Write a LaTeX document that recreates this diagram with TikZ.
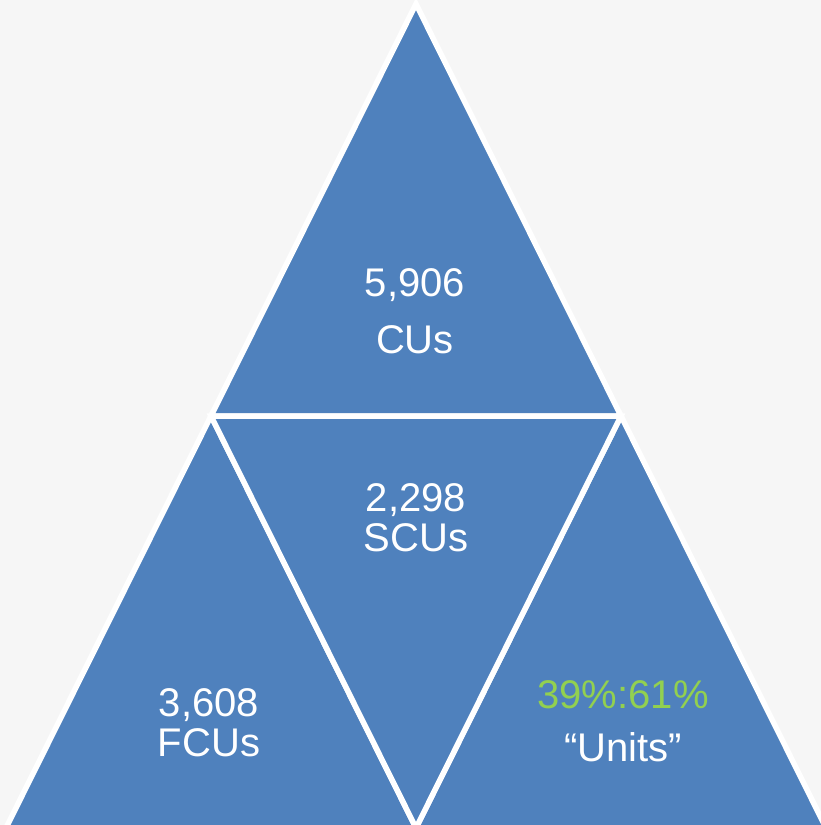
\documentclass[tikz,border=0pt]{standalone}
\usepackage{fontspec}
\setmainfont{Liberation Sans}
\usepackage{tikz}
\usetikzlibrary{calc}
\definecolor{bgray}{HTML}{F6F6F6}
\definecolor{tblue}{HTML}{4F81BD}
\definecolor{tgreen}{HTML}{92D050}
\tikzset{tri/.style={fill=tblue,draw=white,line width=5.5pt,line join=miter}}
\tikzset{l/.style={text=white,font=\fontsize{40}{40}\selectfont,anchor=base,inner sep=0pt}}
\tikzset{g/.style={l,text=tgreen}}

\begin{document}
\begin{tikzpicture}[x=1pt,y=-1pt]
            \useasboundingbox (0,0) rectangle (821,825);
            \fill[bgray] (0,0) rectangle (821,825);
            \clip (0,0) rectangle (821,825);
            \coordinate (A) at (416,4);
            \coordinate (B) at (6,828);
            \coordinate (C) at (826,828);
            \coordinate (AB) at ($(A)!0.5!(B)$);
            \coordinate (AC) at ($(A)!0.5!(C)$);
            \coordinate (BC) at ($(B)!0.5!(C)$);
            \draw[tri] (A)--(AB)--(AC)--cycle;
            \draw[tri] (AB)--(B)--(BC)--cycle;
            \draw[tri] (AC)--(BC)--(C)--cycle;
            \draw[tri] (AB)--(AC)--(BC)--cycle;
            \node[l] (cuN) at (415,296) {5,906};
            \node[l] (cuL) at (415,353) {CUs};
            \node[l] (scuN) at (416,511) {2,298};
            \node[l] (scuL) at (416,551) {SCUs};
            \node[l] (fcuN) at (209,716) {3,608};
            \node[l] (fcuL) at (209,756) {FCUs};
            \node[g] (ratio) at (623,708) {39\%:61\%};
            \node[l] (unit) at (623,761) {“Units”};
          \end{tikzpicture}
\end{document}
